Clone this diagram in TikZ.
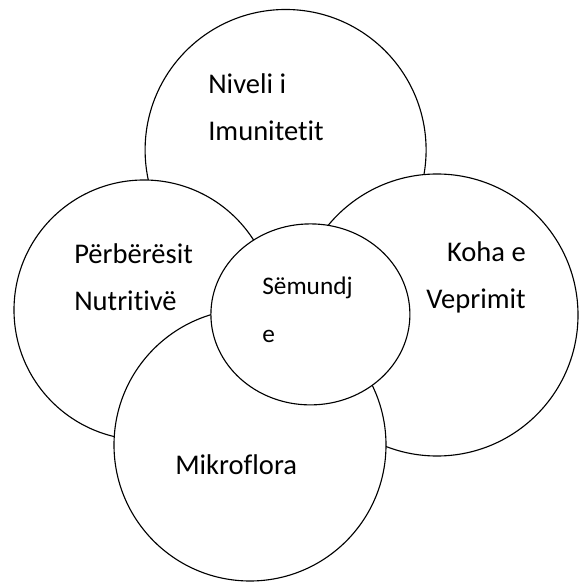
\documentclass[tikz,border=0pt]{standalone}
\usepackage{fontspec}
\setmainfont[Ligatures=NoCommon]{Carlito}
\usetikzlibrary{shapes.geometric}

\tikzset{
  bubble/.style={draw, circle, fill=white, line width=0.8pt, inner sep=0pt},
  lbl/.style={font=\fontsize{20.3}{24}\selectfont, inner sep=0pt, anchor=base west},
  lblr/.style={lbl, anchor=base east},
  lbls/.style={lbl, font=\fontsize{18}{22}\selectfont}
}

\begin{document}
\begin{tikzpicture}
  \useasboundingbox (0,0) rectangle (14.45,14.55);

  % Outer circles, back to front
  \node[bubble, minimum size=7.025cm] (imun) at (7.14,10.8) {};
  \node[bubble, minimum size=6.5cm]   (nutr) at (3.6,6.8) {};
  \node[bubble, minimum size=7.05cm]  (vepr) at (10.925,6.675) {};
  \node[bubble, minimum size=6.8cm]   (mikr) at (6.25,3.425) {};
  % Centre ellipse
  \node[bubble, ellipse, minimum width=4.975cm, minimum height=4.525cm] (semu) at (7.76,6.69) {};

  % Labels
  \node[lbl] (imun1) at (5.2,12.2) {Niveli i};
  \node[lbl] (imun2) at (5.2,11.025) {Imunitetit};
  \node[lbl] (nutr1) at (1.85,7.96) {Përbërësit};
  \node[lbl] (nutr2) at (1.85,6.78) {Nutritivë};
  \node[lblr] (vepr1) at (13.15,8.0) {Koha e};
  \node[lblr] (vepr2) at (13.15,6.825) {Veprimit};
  \node[lbl] (mikr1) at (4.375,2.69) {Mikroflora};
  \node[lbls] (semu1) at (6.55,7.175) {Sëmundj};
  \node[lbls] (semu2) at (6.55,5.975) {e};
\end{tikzpicture}
\end{document}
